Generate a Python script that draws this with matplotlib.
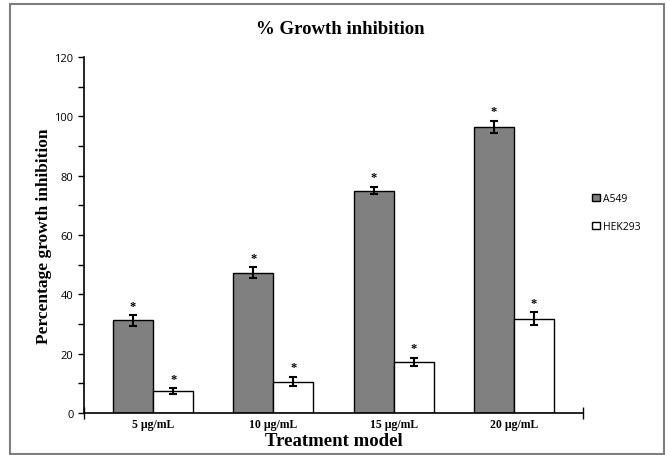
import numpy as np
import matplotlib.pyplot as plt
from matplotlib.patches import Rectangle
from matplotlib.ticker import MultipleLocator

categories = ['5 µg/mL', '10 µg/mL', '15 µg/mL', '20 µg/mL']
a549 = [31.2, 47.3, 75.0, 96.5]
a549_err = [1.8, 1.8, 1.3, 2.0]
hek293 = [7.4, 10.6, 17.2, 31.8]
hek293_err = [1.0, 1.6, 1.4, 2.2]

fig = plt.figure(figsize=(6.7, 4.56), dpi=100)
ax = fig.add_axes([84/670, 1 - 414/456, (583-84)/670, (414-58)/456])

# grey frame round the whole chart
fig.patches.append(Rectangle((10/670, 0.002), (664-10)/670, 1 - 5/456 - 0.002,
                             transform=fig.transFigure, fill=False,
                             edgecolor='#7f7f7f', linewidth=1.5))

x = np.arange(len(categories))
w = 1/3
err_kw = dict(ecolor='black', elinewidth=1.5, capsize=3, capthick=1.5)
ax.bar(x - w/2, a549, w, yerr=a549_err, color='#808080', edgecolor='black',
       linewidth=1, label='A549', error_kw=err_kw)
ax.bar(x + w/2, hek293, w, yerr=hek293_err, color='white', edgecolor='black',
       linewidth=1, label='HEK293', error_kw=err_kw)

# significance stars
for xi, v, e in zip(x - w/2, a549, a549_err):
    ax.text(xi, v + e + 1.2, '*', ha='center', va='bottom', fontsize=9,
            family='Liberation Serif', fontweight='bold')
for xi, v, e in zip(x + w/2, hek293, hek293_err):
    ax.text(xi, v + e + 1.2, '*', ha='center', va='bottom', fontsize=9,
            family='Liberation Serif', fontweight='bold')

ax.set_xlim(-0.575, 3.575)
ax.set_ylim(0, 120)
ax.yaxis.set_major_locator(MultipleLocator(20))
ax.yaxis.set_minor_locator(MultipleLocator(10))
ax.tick_params(axis='y', which='both', direction='out', length=4, width=1,
               labelsize=8)
for lab in ax.get_yticklabels():
    lab.set_family('Open Sans')

ax.set_xticks([-0.575, 3.575])
ax.set_xticklabels([])
ax.tick_params(axis='x', direction='inout', length=8, width=1)
for xi, c in zip(x, categories):
    ax.text(xi, -1.8, c, ha='center', va='top', fontsize=8.5,
            family='Liberation Serif', fontweight='bold',
            transform=ax.transData)

ax.spines['top'].set_visible(False)
ax.spines['right'].set_visible(False)
ax.spines['left'].set_linewidth(1.2)
ax.spines['bottom'].set_linewidth(1.2)

ax.set_ylabel('Percentage growth inhibition', family='Liberation Serif',
              fontweight='bold', fontsize=12.5, labelpad=2)
fig.text(334/670, 1 - 442/456, 'Treatment model', ha='center', va='center',
         family='Liberation Serif', fontweight='bold', fontsize=13.5)
fig.text(340/670, 1 - 29/456, '% Growth inhibition', ha='center', va='center',
         family='Liberation Serif', fontweight='bold', fontsize=13.5)

ax.legend(loc='upper left', bbox_to_anchor=(583/670, 1 - 185/456),
          bbox_transform=fig.transFigure, frameon=False,
          prop={'family': 'Open Sans', 'size': 7.5}, handlelength=0.7,
          handleheight=0.7, handletextpad=0.3, labelspacing=1.6)

fig.savefig('out.png', dpi=100)
